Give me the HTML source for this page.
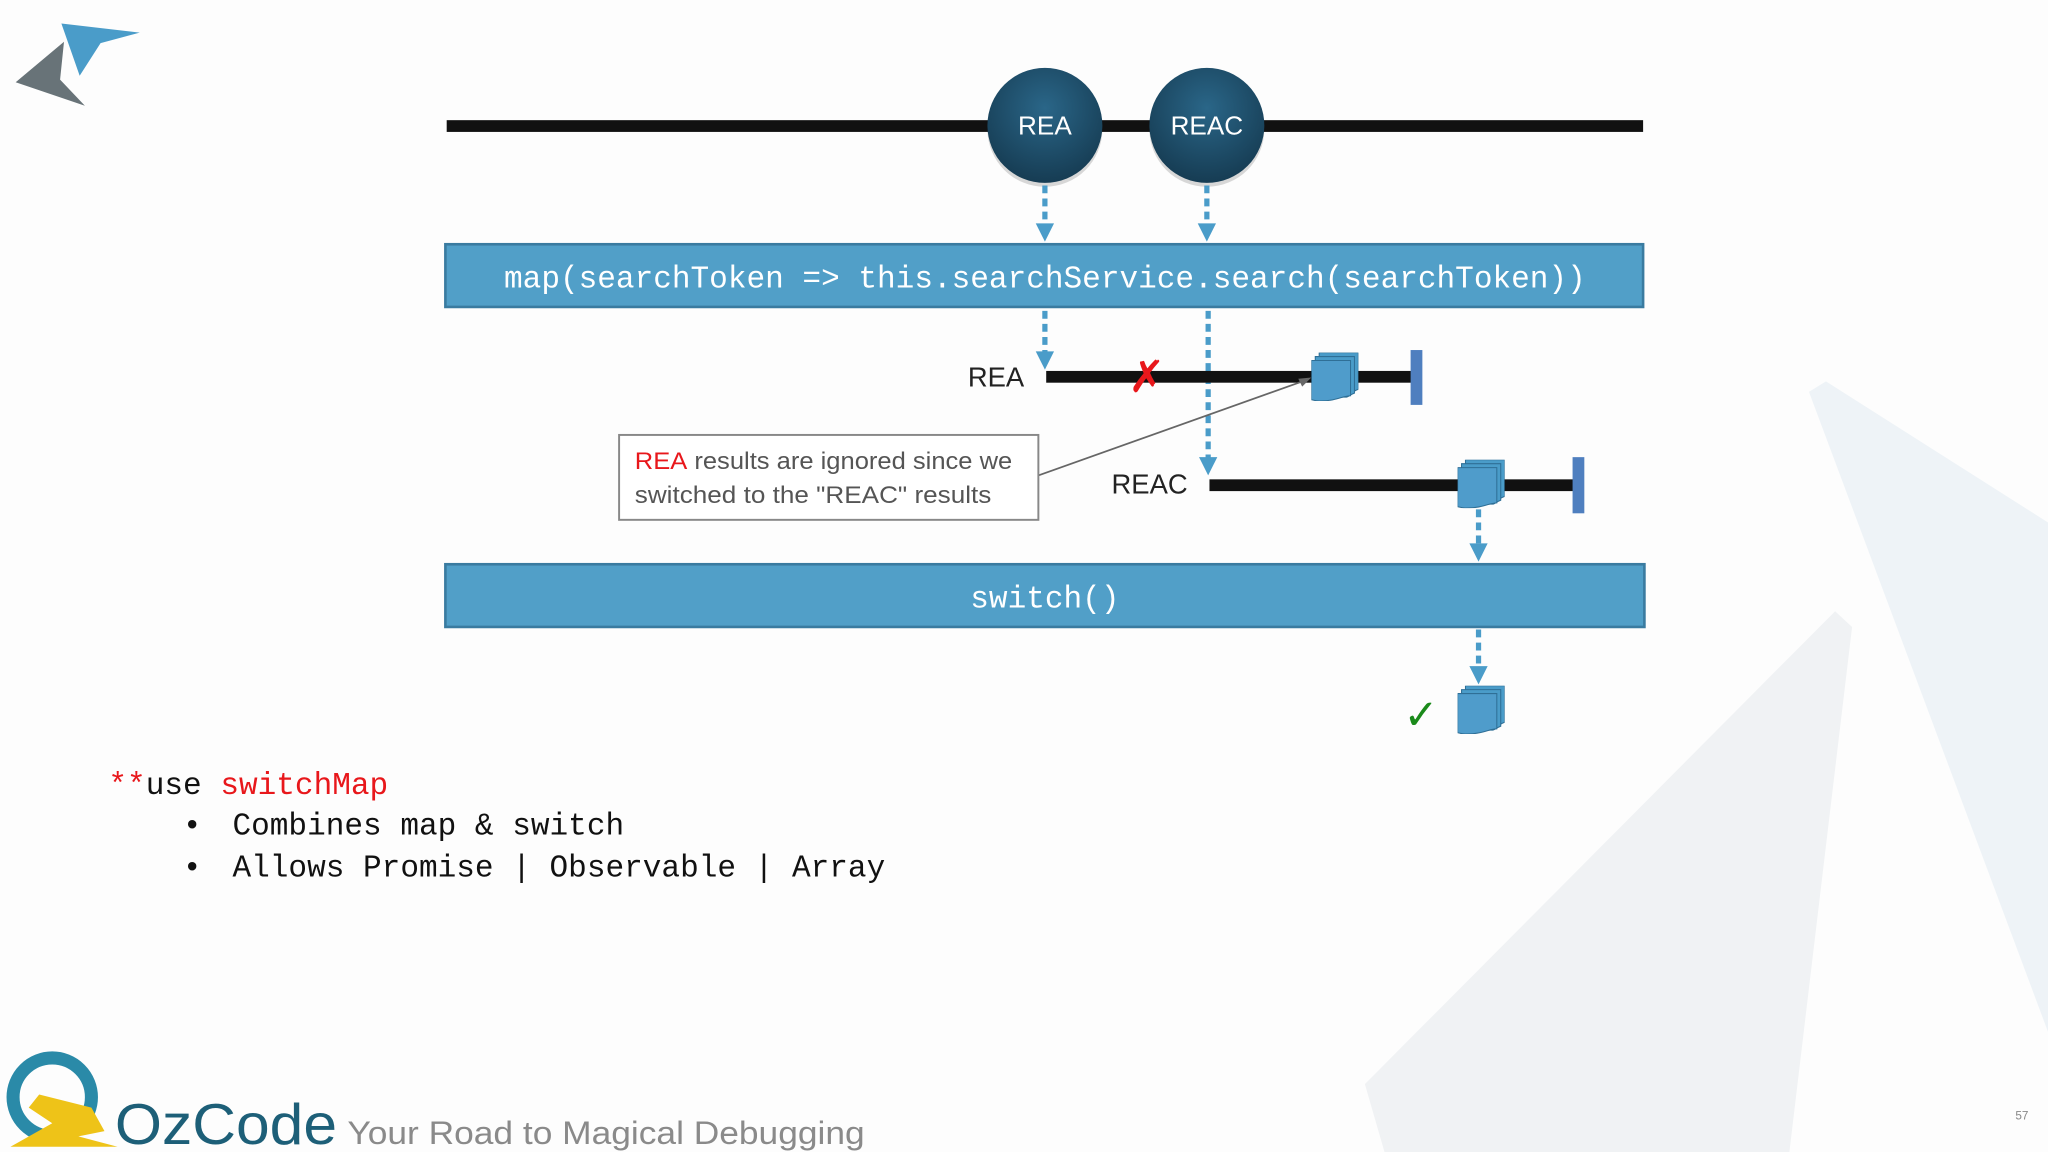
<!DOCTYPE html>
<html><head><meta charset="utf-8"><style>
html,body{margin:0;padding:0;background:#fdfdfd;}
svg{display:block;}
</style></head><body>
<svg width="2048" height="1152" viewBox="0 0 1568 882" xmlns="http://www.w3.org/2000/svg">
<defs>
<radialGradient id="cg" cx="0.5" cy="0.35" r="0.65">
<stop offset="0" stop-color="#2a6688"/><stop offset="1" stop-color="#163c53"/>
</radialGradient>
<symbol id="doc" viewBox="0 0 36 37">
<path d="M6,0 H36 V28 C33,29 31,31 30,31 H6z" fill="#4a9cc9" stroke="#2f6f96" stroke-width="0.8"/>
<path d="M3,3 H33 V31 C30,32 28,34 27,34 H3z" fill="#4a9cc9" stroke="#2f6f96" stroke-width="0.8"/>
<path d="M0,6 H30 V33 C24,33 20,37 6,37 C3,37 1,36 0,36z" fill="#4f9ccb" stroke="#2f6f96" stroke-width="0.8"/>
</symbol>
</defs>
<rect width="1568" height="882" fill="#fdfdfd"/>
<polygon points="1385,300 1398,292 1568,400 1568,790" fill="#eef3f7"/>
<polygon points="1405,468 1418,480 1370,882 1060,882 1045,830" fill="#f0f2f4"/>
<!-- logo -->
<polygon points="47,18 107,25 77,33 61,58" fill="#4a9cc9"/>
<polygon points="49,32 12,63 65,81 46,61" fill="#687378"/>
<!-- top timeline -->
<rect x="342" y="92" width="916" height="9" fill="#111"/>
<circle cx="800" cy="99" r="44" fill="#000" opacity="0.15"/>
<circle cx="924" cy="99" r="44" fill="#000" opacity="0.15"/>
<circle cx="800" cy="96" r="44" fill="url(#cg)"/>
<circle cx="924" cy="96" r="44" fill="url(#cg)"/>
<g font-family="Liberation Sans, sans-serif" font-size="20" fill="#fff" text-anchor="middle">
<text x="800" y="103">REA</text><text x="924" y="103">REAC</text></g>
<g stroke="#4a9cc9" stroke-width="4" stroke-dasharray="6 4" fill="none">
<line x1="800" y1="142" x2="800" y2="172"/>
<line x1="924" y1="142" x2="924" y2="172"/>
<line x1="800" y1="238" x2="800" y2="270"/>
<line x1="925" y1="238" x2="925" y2="351"/>
<line x1="1132" y1="390" x2="1132" y2="417"/>
<line x1="1132" y1="482" x2="1132" y2="511"/>
</g>
<g fill="#4a9cc9">
<polygon points="793,171 807,171 800,185"/>
<polygon points="917,171 931,171 924,185"/>
<polygon points="793,269 807,269 800,283"/>
<polygon points="918,350 932,350 925,364"/>
<polygon points="1125,416 1139,416 1132,430"/>
<polygon points="1125,510 1139,510 1132,524"/>
</g>
<rect x="341" y="187" width="917" height="48" fill="#519fc8" stroke="#3a7ba0" stroke-width="2"/>
<text x="800" y="220" text-anchor="middle" font-family="Liberation Mono, monospace" font-size="23.8" fill="#fff">map(searchToken =&gt; this.searchService.search(searchToken))</text>
<!-- REA line -->
<text x="741" y="296" font-family="Liberation Sans, sans-serif" font-size="21" fill="#222">REA</text>
<rect x="801" y="284" width="280" height="9" fill="#111"/>
<text x="878" y="300" text-anchor="middle" font-family="DejaVu Sans, sans-serif" font-size="34" font-weight="bold" fill="#e8171b">✗</text>
<use href="#doc" x="1004" y="270" width="36" height="37"/>
<rect x="1080" y="268" width="9" height="42" fill="#4f7fbf"/>
<!-- REAC line -->
<text x="851" y="378" font-family="Liberation Sans, sans-serif" font-size="21" fill="#222">REAC</text>
<rect x="926" y="367" width="280" height="9" fill="#111"/>
<use href="#doc" x="1116" y="352" width="36" height="37"/>
<rect x="1204" y="350" width="9" height="43" fill="#4f7fbf"/>
<!-- callout -->
<line x1="795" y1="364" x2="1000" y2="291" stroke="#666" stroke-width="1.3"/>
<polygon points="1004,289 994,290 997,296" fill="#666"/>
<rect x="474" y="333" width="321" height="65" fill="#fff" stroke="#888" stroke-width="1.5"/>
<g font-family="Liberation Sans, sans-serif" font-size="18.5" fill="#555">
<text x="486" y="359" textLength="289" lengthAdjust="spacingAndGlyphs"><tspan fill="#e8171b">REA</tspan> results are ignored since we</text>
<text x="486" y="385" textLength="273" lengthAdjust="spacingAndGlyphs">switched to the "REAC" results</text></g>
<!-- switch -->
<rect x="341" y="432" width="918" height="48" fill="#519fc8" stroke="#3a7ba0" stroke-width="2"/>
<text x="800" y="465" text-anchor="middle" font-family="Liberation Mono, monospace" font-size="23.8" fill="#fff">switch()</text>
<use href="#doc" x="1116" y="525" width="36" height="37"/>
<text x="1088" y="558" text-anchor="middle" font-family="DejaVu Sans, sans-serif" font-size="32" font-weight="bold" fill="#1a8a1a">✓</text>
<!-- bottom text -->
<g font-family="Liberation Mono, monospace" font-size="23.8" fill="#111">
<text x="83" y="608"><tspan fill="#e8171b">**</tspan>use <tspan fill="#e8171b">switchMap</tspan></text>
<text x="140" y="639">•</text><text x="178" y="639">Combines map &amp; switch</text>
<text x="140" y="671">•</text><text x="178" y="671">Allows Promise | Observable | Array</text>
</g>
<!-- ozcode logo -->
<circle cx="40" cy="840" r="30" fill="none" stroke="#2a8aa8" stroke-width="10"/>
<polygon points="30,838 70,848 80,866 60,870 90,878 8,878 40,860 22,848" fill="#eec318"/>
<text x="88" y="876" font-family="Liberation Sans, sans-serif" font-size="44" fill="#1d5f78" textLength="170" lengthAdjust="spacingAndGlyphs">OzCode</text>
<text x="266" y="876" font-family="Liberation Sans, sans-serif" font-size="25" fill="#8a8a8a" textLength="396" lengthAdjust="spacingAndGlyphs">Your Road to Magical Debugging</text>
<text x="1543" y="857" font-family="Liberation Sans, sans-serif" font-size="9" fill="#888">57</text>
</svg>
</body></html>
